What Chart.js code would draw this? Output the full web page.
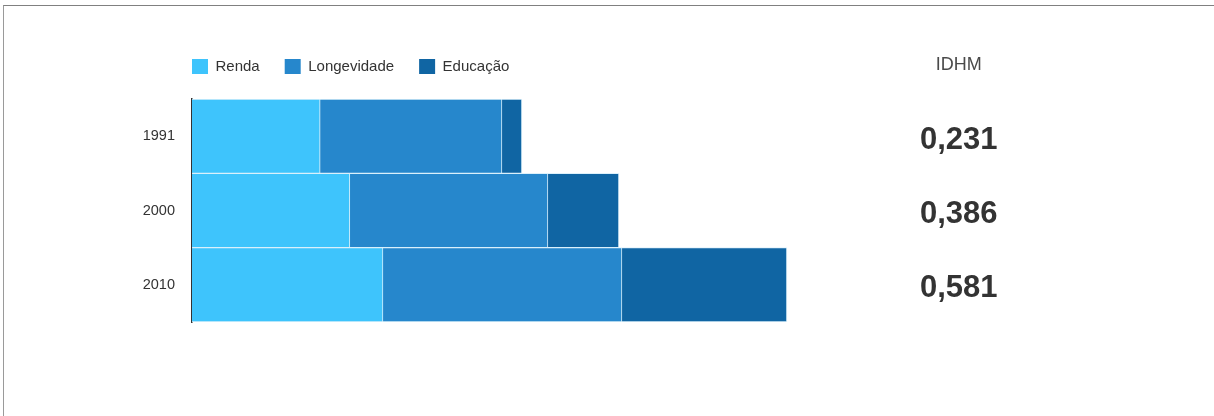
<!DOCTYPE html>
<html>
<head>
<meta charset="utf-8">
<script src="https://cdn.jsdelivr.net/npm/chart.js@4/dist/chart.umd.min.js"></script>
<style>
  html, body { margin: 0; padding: 0; background: #fff; }
  #wrap { position: relative; width: 1214px; height: 416px; }
  #frame { position: absolute; left: 3px; top: 5px; right: 0; bottom: 0; border-top: 1px solid #808080; border-left: 1px solid #9a9a9a; }
  canvas { position: absolute; left: 0; top: 0; }
</style>
</head>
<body>
<div id="wrap">
  <div id="frame"></div>
  <canvas id="chart" width="1214" height="416"></canvas>
</div>
<script>
// anos e componentes do IDHM
const anos = ["1991", "2000", "2010"];
const renda = [0.379, 0.467, 0.565];
const longevidade = [0.538, 0.586, 0.707];
const educacao = [0.059, 0.210, 0.488];
const idhm = ["0,231", "0,386", "0,581"];

const FONT = "'Liberation Sans', Arial, Helvetica, sans-serif";
const sepColor = "rgba(215,238,250,0.85)";

// legenda comeca alinhada com o eixo
const legendShift = {
  id: "legendShift",
  afterLayout(chart) {
    chart.legend.left = chart.chartArea.left - 25;
  }
};

// titulo "IDHM" acima dos valores da direita
const idhmHeader = {
  id: "idhmHeader",
  afterDraw(chart) {
    const s = chart.scales.y2;
    const ctx = chart.ctx;
    ctx.save();
    ctx.font = "bold 31px " + FONT;
    let w = 0;
    idhm.forEach(t => { w = Math.max(w, ctx.measureText(t).width); });
    const cx = s.left + 52 + w / 2;
    ctx.font = "18px " + FONT;
    ctx.fillStyle = "#4a4a4a";
    ctx.textAlign = "center";
    ctx.textBaseline = "middle";
    ctx.fillText("IDHM", cx, chart.chartArea.top - 34);
    ctx.restore();
  }
};

new Chart(document.getElementById("chart"), {
  type: "bar",
  data: {
    labels: anos,
    datasets: [
      { label: "Renda", data: renda, backgroundColor: "#3ec4fc", borderColor: sepColor, borderWidth: 1 },
      { label: "Longevidade", data: longevidade, backgroundColor: "#2687cc", borderColor: sepColor, borderWidth: 1 },
      { label: "Educação", data: educacao, backgroundColor: "#1065a3", borderColor: sepColor, borderWidth: 1 }
    ]
  },
  options: {
    indexAxis: "y",
    responsive: false,
    animation: false,
    barPercentage: 1,
    categoryPercentage: 1,
    layout: { padding: { left: 100, right: 146, top: 34, bottom: 94 } },
    plugins: {
      tooltip: { enabled: false },
      legend: {
        position: "top",
        align: "start",
        labels: {
          boxWidth: 16,
          boxHeight: 15,
          padding: 25,
          color: "#333",
          font: { family: FONT, size: 15 },
          generateLabels(chart) {
            const items = Chart.defaults.plugins.legend.labels.generateLabels(chart);
            items.forEach(it => { it.strokeStyle = it.fillStyle; it.lineWidth = 0; });
            return items;
          }
        }
      }
    },
    scales: {
      x: {
        stacked: true,
        position: "top",
        min: 0,
        max: 2,
        grid: { display: false, drawTicks: false },
        border: { display: false },
        ticks: { display: false },
        afterFit(scale) { scale.height = 15; }
      },
      y: {
        stacked: true,
        offset: true,
        grid: { display: false, drawTicks: false },
        border: { display: true, color: "#333", width: 1.5 },
        ticks: { color: "#333", padding: 17, font: { family: FONT, size: 14.5 } },
        afterFit(scale) { scale.width = 92; }
      },
      y2: {
        type: "category",
        labels: idhm,
        position: "right",
        offset: true,
        grid: { display: false, drawTicks: false },
        border: { display: false },
        ticks: { color: "#333", padding: 52, labelOffset: 4, crossAlign: "center", font: { family: FONT, size: 31, weight: "bold" } },
        afterFit(scale) { scale.width = 200; }
      }
    }
  },
  plugins: [legendShift, idhmHeader]
});
</script>
</body>
</html>
